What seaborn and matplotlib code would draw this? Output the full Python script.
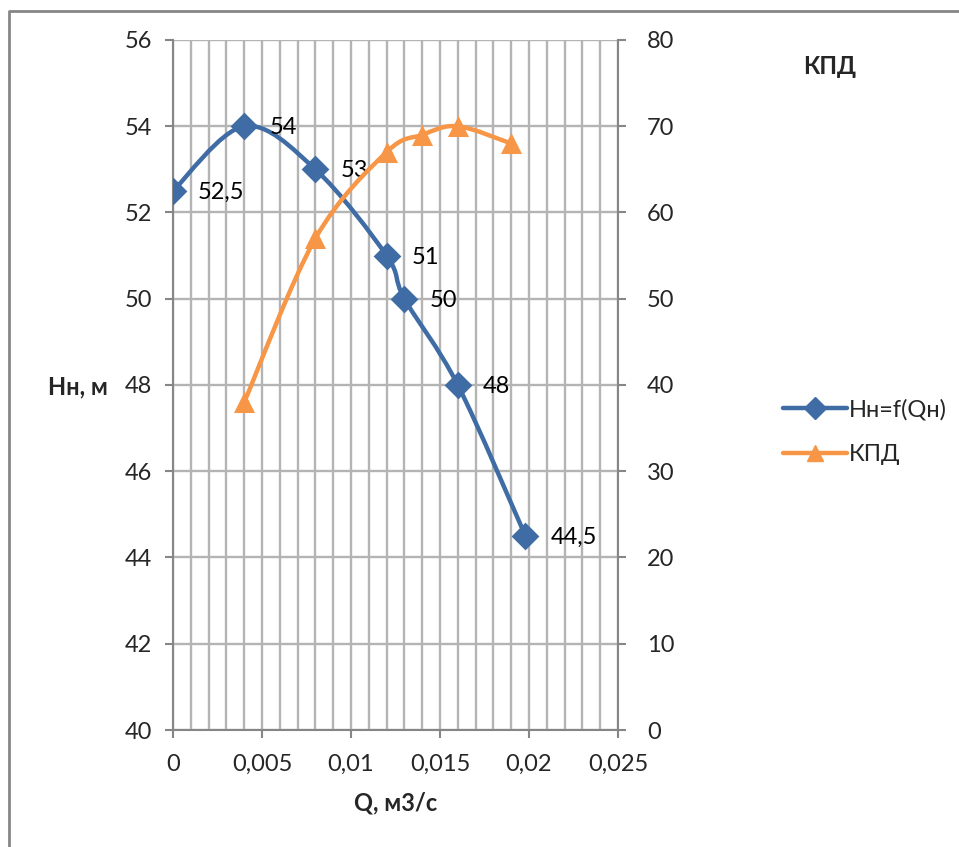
import matplotlib
matplotlib.use("Agg")
import matplotlib.pyplot as plt
import numpy as np
import pandas as pd
import seaborn as sns
from matplotlib.lines import Line2D
from matplotlib.patches import PathPatch
from matplotlib.path import Path
from matplotlib.ticker import FuncFormatter, MultipleLocator

# ---- data ------------------------------------------------------------------
q_head = [0.0, 0.004, 0.008, 0.012, 0.013, 0.016, 0.0198]
head = [52.5, 54, 53, 51, 50, 48, 44.5]
head_labels = ["52,5", "54", "53", "51", "50", "48", "44,5"]

q_eff = [0.004, 0.008, 0.012, 0.014, 0.016, 0.019]
eff = [38, 57, 67, 69, 70, 68]

BLUE = "#3F6CA4"
ORANGE = "#F79646"
GRID = "#B4B4B4"
SPINE = "#868686"
FS = 17

sns.set_theme(style="white")
plt.rcParams["font.family"] = ["Lato", "DejaVu Sans"]


def comma(v, _pos=None):
    return f"{v:g}".replace(".", ",")


def smooth_path(xs, ys):
    # Excel-style smoothed line: cubic Bezier through points (Catmull-Rom control points)
    pts = np.column_stack([xs, ys]).astype(float)
    verts = [pts[0]]
    codes = [Path.MOVETO]
    n = len(pts)
    for i in range(n - 1):
        p0 = pts[i - 1] if i > 0 else pts[i]
        p1, p2 = pts[i], pts[i + 1]
        p3 = pts[i + 2] if i + 2 < n else pts[i + 1]
        verts += [p1 + (p2 - p0) / 6, p2 - (p3 - p1) / 6, p2]
        codes += [Path.CURVE4] * 3
    return Path(verts, codes)


fig = plt.figure(figsize=(9.59, 8.47), dpi=100)
ax = fig.add_axes([173 / 959, 1 - 730 / 847, 445 / 959, 690 / 847])
ax2 = ax.twinx()

# grid
ax.set_xlim(0, 0.025)
ax.set_ylim(40, 56)
ax2.set_ylim(0, 80)
ax.xaxis.set_major_locator(MultipleLocator(0.005))
ax.xaxis.set_minor_locator(MultipleLocator(0.001))
ax.yaxis.set_major_locator(MultipleLocator(2))
ax2.yaxis.set_major_locator(MultipleLocator(10))
ax.grid(True, which="both", axis="x", color=GRID, lw=1.7)
ax.grid(True, which="major", axis="y", color=GRID, lw=1.7)
ax.set_axisbelow(True)

for a in (ax, ax2):
    for s in a.spines.values():
        s.set_visible(False)
ax.spines["left"].set_visible(True)
ax.spines["bottom"].set_visible(True)
ax2.spines["right"].set_visible(True)
for s in (ax.spines["left"], ax.spines["bottom"], ax2.spines["right"]):
    s.set_color(SPINE)
    s.set_linewidth(1.5)

ax.tick_params(axis="x", which="major", direction="out", length=6, width=1.5,
               color=SPINE, pad=11, labelsize=FS, bottom=True)
ax.tick_params(axis="x", which="minor", length=0)
ax.tick_params(axis="y", direction="out", length=6, width=1.5, color=SPINE,
               pad=9, labelsize=FS, left=True)
ax2.tick_params(axis="y", direction="out", length=6, width=1.5, color=SPINE,
                pad=15, labelsize=FS, right=True)
ax.xaxis.set_major_formatter(FuncFormatter(comma))
ax.yaxis.set_major_formatter(FuncFormatter(comma))
ax2.yaxis.set_major_formatter(FuncFormatter(comma))

# curves
df_h = pd.DataFrame({"Q": q_head, "H": head})
df_e = pd.DataFrame({"Q": q_eff, "E": eff})

ax.add_patch(PathPatch(smooth_path(q_head, head), fill=False, edgecolor=BLUE,
                       lw=3.2, capstyle="round", joinstyle="round", zorder=3))
sns.scatterplot(data=df_h, x="Q", y="H", ax=ax, marker="D", s=200, color=BLUE,
                edgecolor=BLUE, linewidth=0, zorder=4, legend=False)

ax2.add_patch(PathPatch(smooth_path(q_eff, eff), fill=False, edgecolor=ORANGE,
                        lw=3.2, capstyle="round", joinstyle="round", zorder=3))
sns.scatterplot(data=df_e, x="Q", y="E", ax=ax2, marker="^", s=230, color=ORANGE,
                edgecolor=ORANGE, linewidth=0, zorder=4, legend=False)

for x, y, t in zip(q_head, head, head_labels):
    ax.annotate(t, (x, y), xytext=(18, -1), textcoords="offset points",
                ha="left", va="center", fontsize=FS, color="black", zorder=5)

ax.set_xlabel("Q, м3/с", fontsize=FS, fontweight="bold", labelpad=12)
ax.set_ylabel("")
ax2.set_ylabel("")
fig.text(78 / 959, 1 - 387 / 847, "Нн, м", fontsize=FS, fontweight="bold",
         ha="center", va="center")
fig.text(830 / 959, 1 - 67 / 847, "КПД", fontsize=FS, fontweight="bold",
         ha="center", va="center")

handles = [
    Line2D([], [], color=BLUE, lw=3.2, marker="D", markersize=11, solid_capstyle="round"),
    Line2D([], [], color=ORANGE, lw=3.2, marker="^", markersize=12, solid_capstyle="round"),
]
fig.legend(handles, ["Нн=f(Qн)", "КПД"], loc="center left",
           bbox_to_anchor=(762 / 959, 1 - 432 / 847), frameon=False,
           fontsize=FS, handlelength=2.7, handletextpad=0.1, labelspacing=1.0)

# chart-area border (only top and left edges are in frame)
fig.add_artist(Line2D([9 / 959, 9 / 959, 1], [0, 1 - 11 / 847, 1 - 11 / 847],
                      transform=fig.transFigure, color=SPINE, lw=2))

fig.savefig("out.png", dpi=100)
